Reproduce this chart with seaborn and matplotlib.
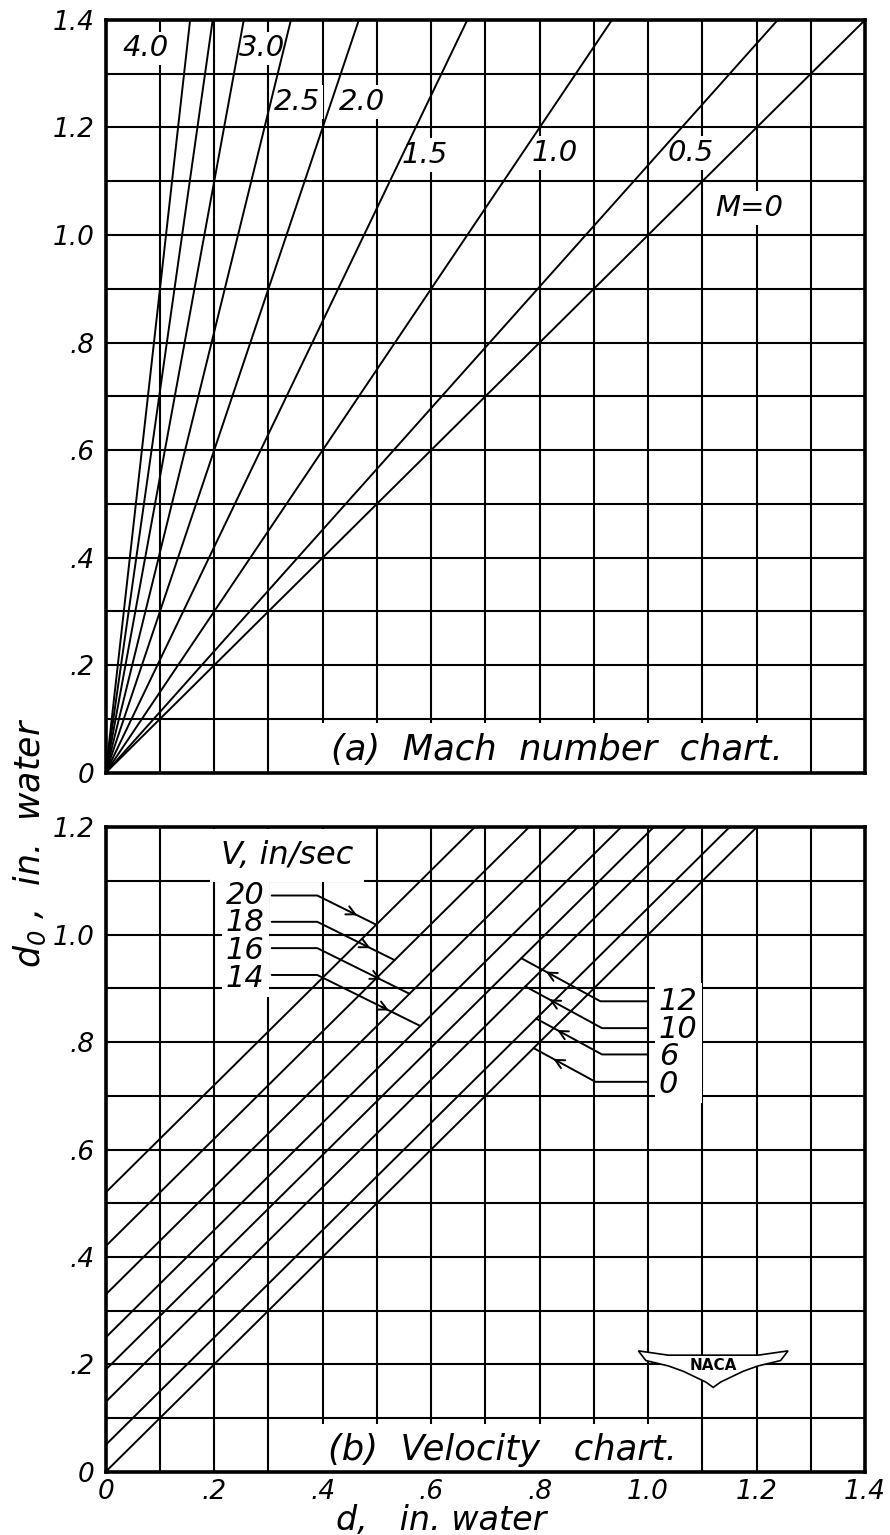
import numpy as np
import pandas as pd
import matplotlib
matplotlib.use("Agg")
import matplotlib.pyplot as plt
from matplotlib.patches import Polygon
import seaborn as sns

# ---------------- data ----------------
mach_labels = ["4.0", "3.5", "3.0", "2.5", "2.0", "1.5", "1.0", "0.5", "0"]
mach_slopes = [9.0, 7.1, 5.5, 4.1, 3.0, 2.1, 1.5, 1.13, 1.0]   # d0 / d

velocity = [20, 18, 16, 14, 12, 10, 6, 0]                          # in/sec
vel_intercepts = [0.52, 0.42, 0.33, 0.25, 0.19, 0.13, 0.05, 0.0]   # d0 - d

y_ticks_top = [0, 0.2, 0.4, 0.6, 0.8, 1.0, 1.2, 1.4]
y_ticklabels_top = ["0", ".2", ".4", ".6", ".8", "1.0", "1.2", "1.4"]
y_ticks_bot = [0, 0.2, 0.4, 0.6, 0.8, 1.0, 1.2]
y_ticklabels_bot = ["0", ".2", ".4", ".6", ".8", "1.0", "1.2"]
x_ticks = [0, 0.2, 0.4, 0.6, 0.8, 1.0, 1.2, 1.4]
x_ticklabels = ["0", ".2", ".4", ".6", ".8", "1.0", "1.2", "1.4"]

# ---------------- style ----------------
sns.set_style("white")
plt.rcParams["font.family"] = ["DejaVu Sans"]
plt.rcParams["font.style"] = "italic"
plt.rcParams["mathtext.fontset"] = "dejavusans"
plt.rcParams["mathtext.default"] = "it"
for key in ("text.color", "axes.labelcolor", "xtick.color", "ytick.color"):
    plt.rcParams[key] = "black"

fig = plt.figure(figsize=(8.9, 15.35), dpi=100)
ax1 = fig.add_axes([0.1188, 0.4966, 0.8532, 0.4904])
ax2 = fig.add_axes([0.1188, 0.04124, 0.8532, 0.4198])

GRID_LW = 1.5
LINE_LW = 1.4
LBL = 21


def style_axes(ax, ymax, yt, ytl, show_x):
    ax.set_xlim(0, 1.4)
    ax.set_ylim(0, ymax)
    ax.set_xticks(np.arange(0, 1.401, 0.1), minor=True)
    ax.set_yticks(np.arange(0, ymax + 0.001, 0.1), minor=True)
    ax.set_yticks(yt, ytl)
    if show_x:
        ax.set_xticks(x_ticks, x_ticklabels)
    else:
        ax.set_xticks(x_ticks, [""] * len(x_ticks))
    ax.grid(which="both", color="black", lw=GRID_LW)
    ax.set_axisbelow(True)
    ax.tick_params(axis="y", which="major", length=4, width=1.2,
                   direction="out", pad=4, labelsize=19, colors="black")
    ax.tick_params(axis="x", which="major", length=4, width=1.2,
                   direction="out", pad=1, labelsize=19, colors="black")
    ax.tick_params(axis="both", which="minor", length=0)
    if not show_x:
        ax.tick_params(axis="x", which="major", length=0)
    for lab in ax.get_xticklabels() + ax.get_yticklabels():
        lab.set_fontstyle("italic")
    for s in ax.spines.values():
        s.set_color("black")
        s.set_linewidth(2.6)
        s.set_zorder(5)
    ax.set_xlabel("")
    ax.set_ylabel("")


# ---------------- (a) Mach number chart ----------------
rows = []
for lab, k in zip(mach_labels, mach_slopes):
    for x in (0.0, 1.4):
        rows.append({"M": lab, "d": x, "d0": k * x})
df_m = pd.DataFrame(rows)
sns.lineplot(data=df_m, x="d", y="d0", units="M", estimator=None,
             color="black", lw=LINE_LW, sort=False, legend=False, ax=ax1,
             zorder=3)
style_axes(ax1, 1.4, y_ticks_top, y_ticklabels_top, show_x=False)

box = dict(facecolor="white", edgecolor="none", pad=2)
mach_text = [("4.0", 0.073, 1.347), ("3.0", 0.289, 1.347), ("2.5", 0.353, 1.248),
             ("2.0", 0.473, 1.248), ("1.5", 0.588, 1.149), ("1.0", 0.828, 1.153),
             ("0.5", 1.078, 1.153), ("M=0", 1.186, 1.05)]
for t, x, y in mach_text:
    ax1.text(x, y, t, ha="center", va="center", fontsize=LBL,
             bbox=box, zorder=2)

ax1.text(0.415, 0.043, "(a)  Mach  number  chart.", ha="left", va="center",
         fontsize=25.5, bbox=dict(facecolor="white", edgecolor="none", pad=7),
         zorder=2)

# ---------------- (b) Velocity chart ----------------
rows = []
for v, b in zip(velocity, vel_intercepts):
    for x in (0.0, 1.2 - b):
        rows.append({"V": v, "d": x, "d0": x + b})
df_v = pd.DataFrame(rows)
sns.lineplot(data=df_v, x="d", y="d0", units="V", estimator=None,
             color="black", lw=LINE_LW, sort=False, legend=False, ax=ax2,
             zorder=3)
style_axes(ax2, 1.2, y_ticks_bot, y_ticklabels_bot, show_x=True)

ax2.text(0.212, 1.147, "V, in/sec", ha="left", va="center", fontsize=23,
         bbox=dict(facecolor="white", edgecolor="none", pad=8), zorder=2)

LEAD_FS = 22
LEAD_LS = 0.94


def arrow_mid(ax, xb, yl, xe, ye):
    f1, f2 = 0.60, 0.72
    p1 = (xb + f1 * (xe - xb), yl + f1 * (ye - yl))
    p2 = (xb + f2 * (xe - xb), yl + f2 * (ye - yl))
    ax.annotate("", xy=p2, xytext=p1,
                arrowprops=dict(arrowstyle="->", color="black", lw=1.4,
                                mutation_scale=16), zorder=4)


# left-hand leaders (V = 20, 18, 16, 14)
left_lab_y = [1.073, 1.024, 0.975, 0.925]
ax2.text(0.293, np.mean(left_lab_y) - 0.003,
         "\n".join(str(v) for v in velocity[:4]), ha="right", va="center",
         fontsize=LEAD_FS, linespacing=LEAD_LS,
         bbox=dict(facecolor="white", edgecolor="none", pad=3), zorder=2)
for b, yl in zip(vel_intercepts[:4], left_lab_y):
    xb = 0.39
    xe = (yl + 0.5 * xb - b) / 1.5
    ye = xe + b
    ax2.plot([0.306, xb, xe], [yl, yl, ye], color="black", lw=1.4, zorder=4)
    arrow_mid(ax2, xb, yl, xe, ye)

# right-hand leaders (V = 12, 10, 6, 0)
right_lab_y = [0.876, 0.826, 0.777, 0.726]
right_break = [0.912, 0.915, 0.915, 0.903]
ax2.text(1.02, np.mean(right_lab_y) - 0.003,
         "\n".join(str(v) for v in velocity[4:]), ha="left", va="center",
         fontsize=LEAD_FS, linespacing=LEAD_LS,
         bbox=dict(facecolor="white", edgecolor="none", pad=3), zorder=2)
for b, yl, xb in zip(vel_intercepts[4:], right_lab_y, right_break):
    xe = (yl + 0.55 * xb - b) / 1.55
    ye = xe + b
    ax2.plot([1.0, xb, xe], [yl, yl, ye], color="black", lw=1.4, zorder=4)
    arrow_mid(ax2, xb, yl, xe, ye)

ax2.text(0.41, 0.04, "(b)  Velocity   chart.", ha="left", va="center",
         fontsize=25.5, bbox=dict(facecolor="white", edgecolor="none", pad=7),
         zorder=2)

# NACA wing logo (decoration)
cx, cy, hw, hh = 1.12, 0.195, 0.138, 0.04
shape = [(-1.0, 0.75), (-0.6, 0.55), (0.6, 0.55), (1.0, 0.75), (0.9, 0.3),
         (0.6, 0.05), (0.4, -0.2), (0.25, -0.45), (0.1, -0.7), (0.0, -0.95),
         (-0.1, -0.7), (-0.25, -0.45), (-0.4, -0.2), (-0.6, 0.05), (-0.9, 0.3)]
logo = Polygon([(cx + u * hw, cy + v * hh) for u, v in shape], closed=True,
               facecolor="white", edgecolor="black", lw=1.2, zorder=4)
ax2.add_patch(logo)
ax2.text(cx, cy + 0.003, "NACA", ha="center", va="center", fontsize=11,
         fontstyle="normal", fontweight="bold", zorder=5)

# axis titles
fig.text(0.033, 0.451, r"$d_0$ ,  in.  water", rotation=90, ha="center",
         va="center", fontsize=25)
fig.text(0.4955, 0.0095, "d,   in. water", ha="center", va="center",
         fontsize=24)

fig.savefig("out.png", dpi=100, facecolor="white")
